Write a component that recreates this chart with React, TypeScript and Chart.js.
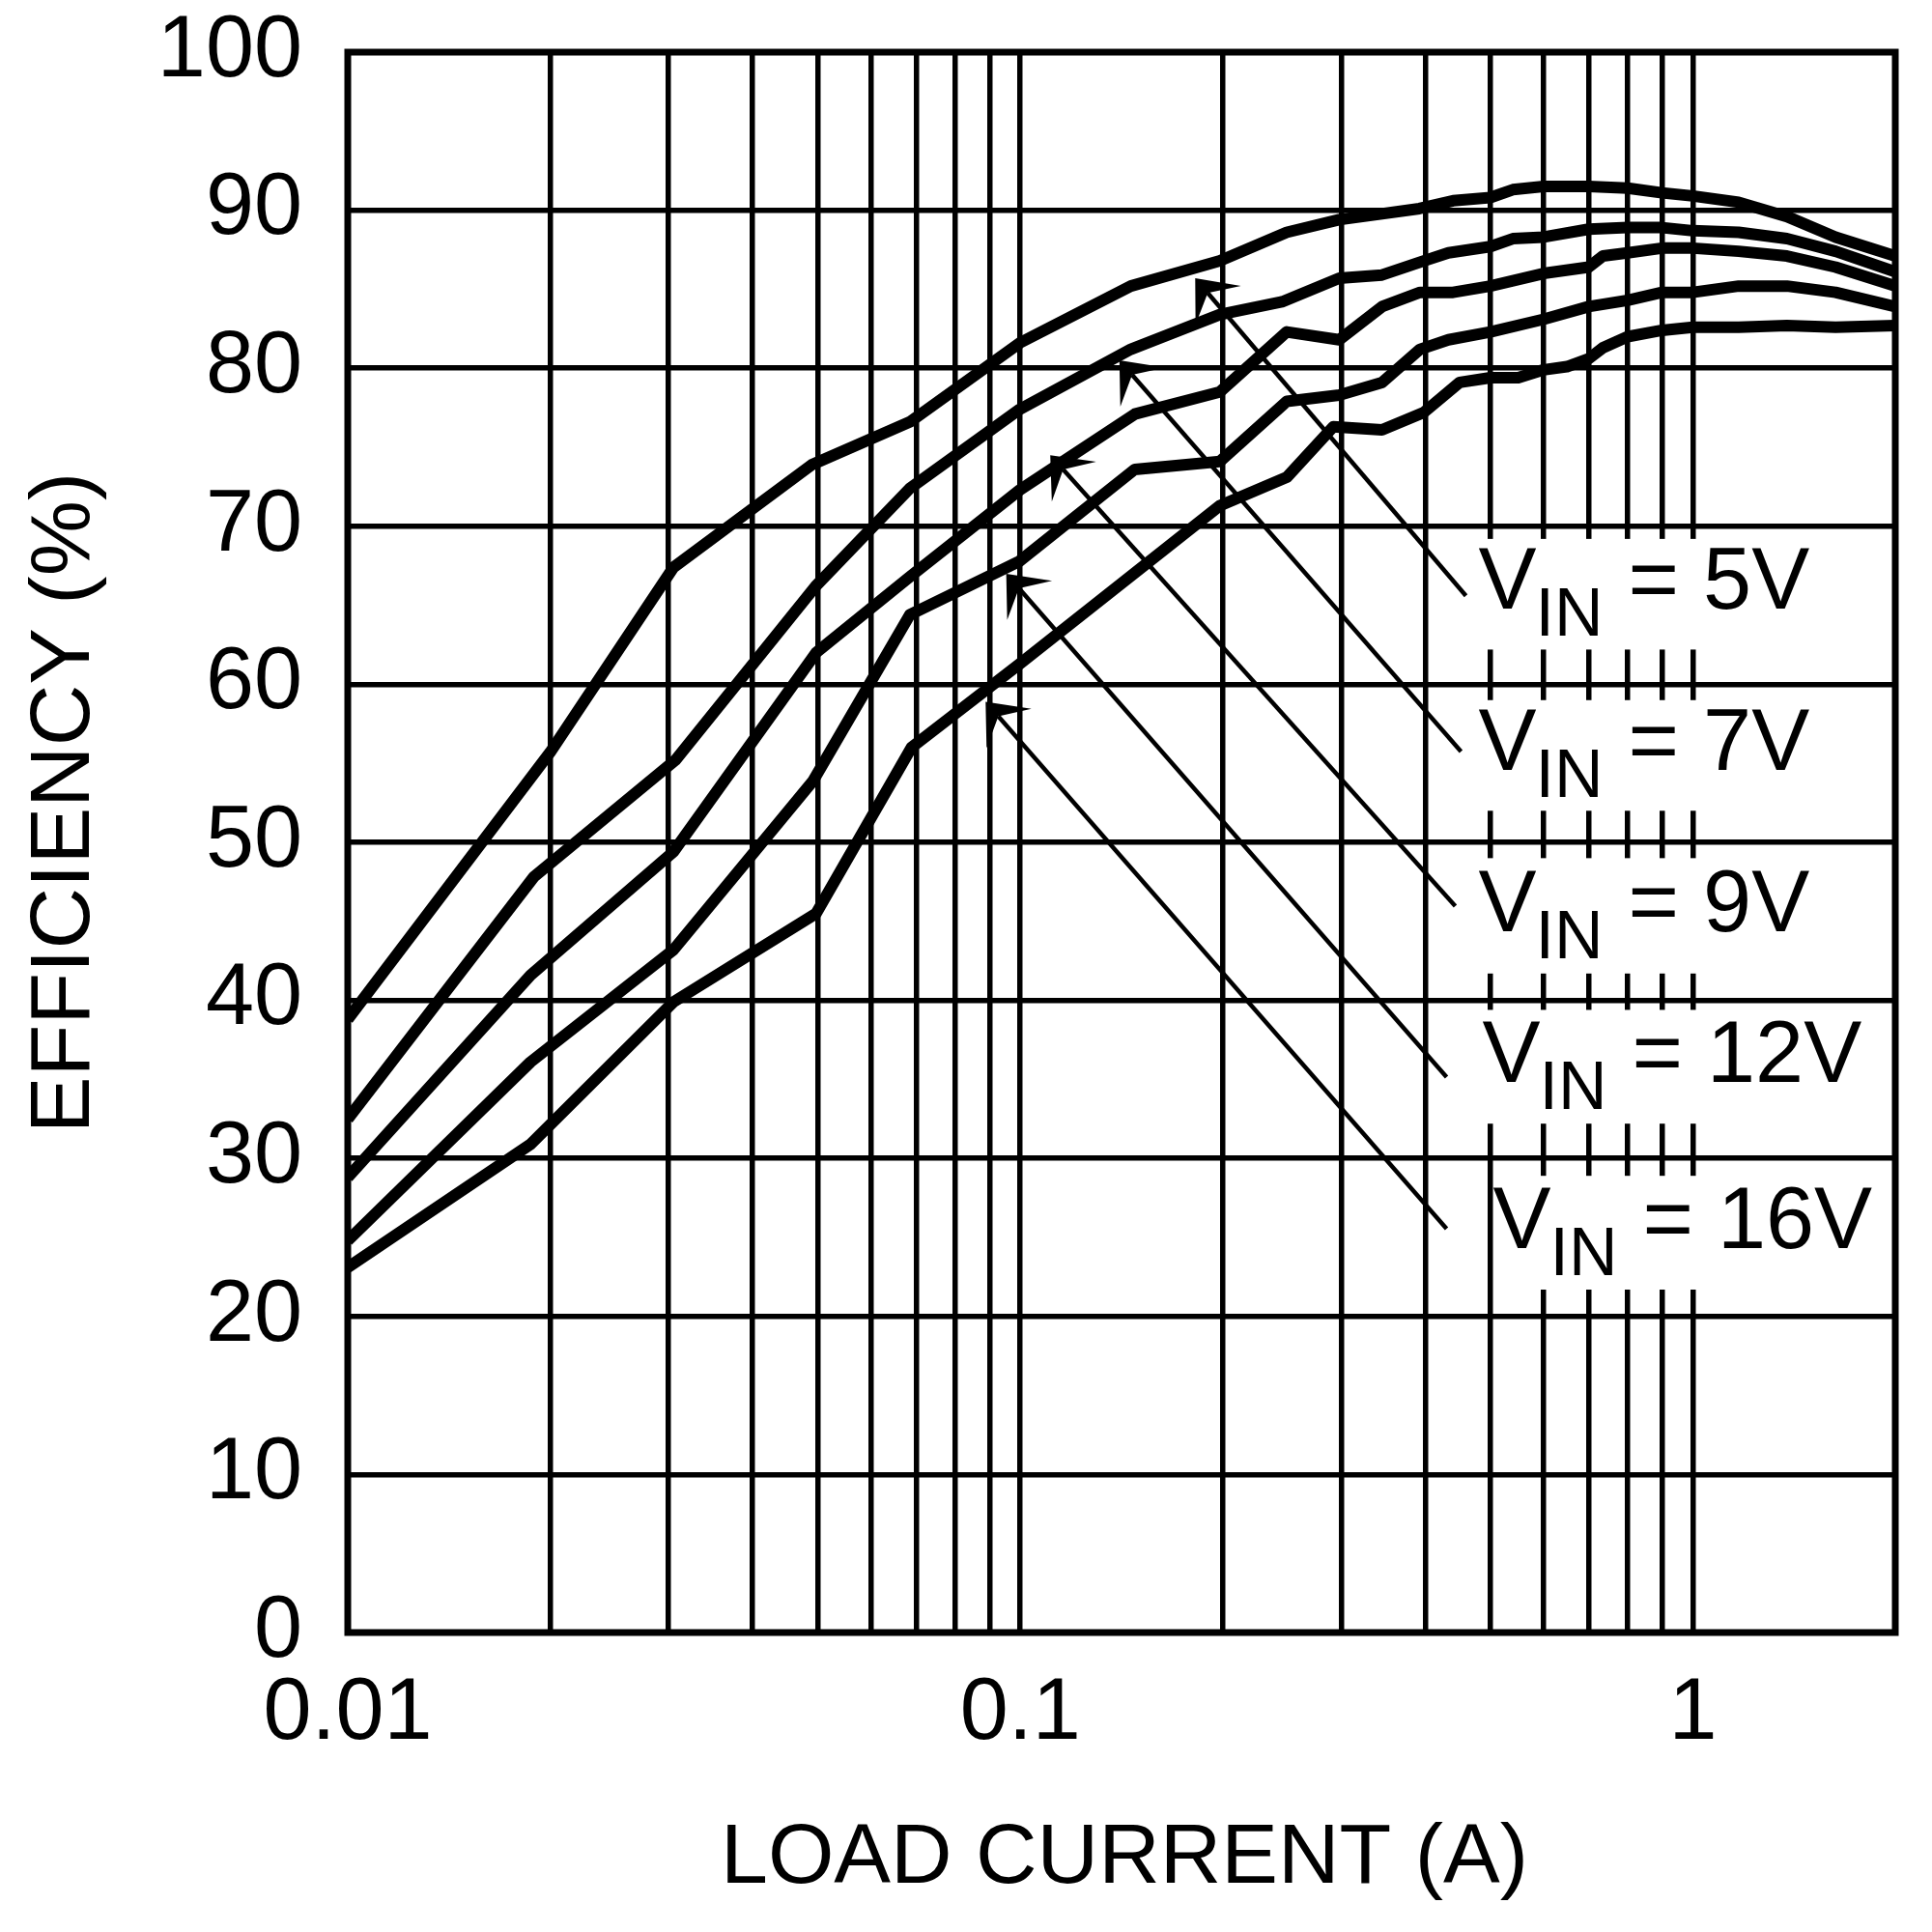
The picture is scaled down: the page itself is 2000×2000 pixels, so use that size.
import React, { useEffect, useRef } from 'react';
import { Chart, registerables } from 'chart.js';

Chart.register(...registerables);

// ---- axis ticks ----
const X_TICKS = [0.01, 0.02, 0.03, 0.04, 0.05, 0.06, 0.07, 0.08, 0.09, 0.1, 0.2, 0.3, 0.4, 0.5, 0.6, 0.7, 0.8, 0.9, 1, 2];
const X_LABELED = [0.01, 0.1, 1];
const Y_TICKS = [0, 10, 20, 30, 40, 50, 60, 70, 80, 90, 100];

// ---- series: load current (A) / efficiency (%) ----
const I_5V = [0.01, 0.02, 0.0305, 0.049, 0.0685, 0.0998, 0.146, 0.198, 0.249, 0.298, 0.392, 0.44, 0.5, 0.54, 0.6, 0.7, 0.8, 0.9, 1.0, 1.17, 1.38, 1.63, 2.0];
const E_5V = [38.8, 55.7, 67.4, 73.9, 76.6, 81.6, 85.2, 86.8, 88.6, 89.4, 90.1, 90.6, 90.8, 91.3, 91.5, 91.5, 91.4, 91.1, 90.9, 90.5, 89.6, 88.3, 87.1];

const I_7V = [0.01, 0.0189, 0.0307, 0.0496, 0.0685, 0.0998, 0.146, 0.198, 0.245, 0.298, 0.345, 0.392, 0.433, 0.5, 0.54, 0.6, 0.7, 0.8, 0.9, 1.0, 1.17, 1.38, 1.63, 2.0];
const E_7V = [32.5, 47.8, 55.2, 66.2, 72.4, 77.4, 81.2, 83.4, 84.2, 85.7, 85.9, 86.7, 87.3, 87.7, 88.2, 88.3, 88.8, 88.9, 88.9, 88.7, 88.6, 88.2, 87.4, 86.1];

const I_9V = [0.01, 0.0187, 0.0305, 0.0497, 0.0685, 0.0998, 0.148, 0.198, 0.249, 0.298, 0.345, 0.393, 0.44, 0.5, 0.6, 0.7, 0.735, 0.8, 0.9, 1.0, 1.17, 1.38, 1.63, 2.0];
const E_9V = [28.8, 41.6, 49.4, 62.0, 66.8, 72.3, 77.1, 78.5, 82.3, 81.8, 83.9, 84.8, 84.8, 85.2, 86.0, 86.4, 87.1, 87.3, 87.6, 87.6, 87.4, 87.1, 86.4, 85.2];

const I_12V = [0.01, 0.0187, 0.0305, 0.0492, 0.0685, 0.0998, 0.148, 0.198, 0.249, 0.298, 0.345, 0.393, 0.433, 0.5, 0.6, 0.7, 0.8, 0.9, 1.0, 1.17, 1.38, 1.63, 2.0];
const E_12V = [24.8, 36.1, 43.2, 53.9, 64.4, 67.8, 73.6, 74.1, 77.9, 78.3, 79.1, 81.2, 81.8, 82.3, 83.1, 83.9, 84.3, 84.8, 84.8, 85.2, 85.2, 84.8, 83.9];

const I_16V = [0.01, 0.0187, 0.0305, 0.0497, 0.0689, 0.0998, 0.198, 0.249, 0.292, 0.345, 0.398, 0.45, 0.5, 0.55, 0.6, 0.65, 0.7, 0.735, 0.8, 0.9, 1.0, 1.17, 1.38, 1.63, 2.0];
const E_16V = [23.1, 30.9, 39.9, 45.5, 56.0, 61.3, 71.3, 73.1, 76.3, 76.1, 77.2, 79.1, 79.4, 79.4, 79.9, 80.1, 80.6, 81.3, 82.0, 82.4, 82.6, 82.6, 82.7, 82.6, 82.7];

const SERIES_NAMES = ['5V', '7V', '9V', '12V', '16V'];
const SERIES_I = [I_5V, I_7V, I_9V, I_12V, I_16V];
const SERIES_E = [E_5V, E_7V, E_9V, E_12V, E_16V];

// ---- callout annotations (data coordinates) ----
const LABEL_I = [0.4801, 0.4801, 0.4801, 0.4864, 0.5043];
const LABEL_E = [64.79, 54.58, 44.38, 34.84, 24.33];
const BOX_LEFT_I = [0.4707, 0.4707, 0.4707, 0.4707, 0.5077];
const BOX_RIGHT_I = 1.094;
const BOX_TOP_E = [69.2, 59.0, 49.0, 39.4, 28.9];
const BOX_BOTTOM_E = [62.2, 52.0, 41.7, 32.2, 21.7];
const TIP_I = [0.182, 0.1404, 0.1108, 0.0953, 0.0888];
const TIP_E = [85.7, 80.5, 74.5, 67.0, 58.9];
const TAIL_I = [0.4598, 0.4522, 0.4434, 0.4304, 0.4304];
const TAIL_E = [65.6, 55.75, 45.97, 35.15, 25.55];

const X_TITLE = 'LOAD CURRENT (A)';
const Y_TITLE = 'EFFICIENCY (%)';

const FONT = '"Liberation Sans", Arial, Helvetica, sans-serif';

const annotationPlugin = {
  id: 'callouts',
  beforeDraw(chart: any) {
    const ctx = chart.ctx;
    ctx.save();
    ctx.fillStyle = '#ffffff';
    ctx.fillRect(0, 0, chart.width, chart.height);
    ctx.restore();
  },
  beforeDatasetsDraw(chart: any) {
    const { ctx, scales } = chart;
    const x = scales.x;
    const y = scales.y;
    ctx.save();
    // white label boxes hide the vertical grid lines
    ctx.fillStyle = '#ffffff';
    for (let i = 0; i < SERIES_NAMES.length; i++) {
      const l = x.getPixelForValue(BOX_LEFT_I[i]);
      const r = x.getPixelForValue(BOX_RIGHT_I);
      const t = y.getPixelForValue(BOX_TOP_E[i]);
      const b = y.getPixelForValue(BOX_BOTTOM_E[i]);
      ctx.fillRect(l, t, r - l, b - t);
    }
    // labels
    ctx.fillStyle = '#000000';
    ctx.textAlign = 'left';
    ctx.textBaseline = 'alphabetic';
    for (let i = 0; i < SERIES_NAMES.length; i++) {
      const px = x.getPixelForValue(LABEL_I[i]);
      const py = y.getPixelForValue(LABEL_E[i]);
      ctx.font = `90px ${FONT}`;
      ctx.fillText('V', px, py);
      ctx.font = `70px ${FONT}`;
      ctx.fillText('IN', px + 59, py + 28);
      ctx.font = `90px ${FONT}`;
      ctx.fillText('= ' + SERIES_NAMES[i], px + 155, py);
    }
    // pointer lines with arrowheads
    ctx.strokeStyle = '#000000';
    ctx.lineWidth = 4.5;
    for (let i = 0; i < SERIES_NAMES.length; i++) {
      const tx = x.getPixelForValue(TIP_I[i]);
      const ty = y.getPixelForValue(TIP_E[i]);
      const ex = x.getPixelForValue(TAIL_I[i]);
      const ey = y.getPixelForValue(TAIL_E[i]);
      const dx = ex - tx;
      const dy = ey - ty;
      const len = Math.hypot(dx, dy);
      const ux = dx / len;
      const uy = dy / len;
      const L = 48;
      const a = (40 * Math.PI) / 180;
      const c = Math.cos(a);
      const s = Math.sin(a);
      const b1x = tx + L * (ux * c - uy * s);
      const b1y = ty + L * (ux * s + uy * c);
      const b2x = tx + L * (ux * c + uy * s);
      const b2y = ty + L * (-ux * s + uy * c);
      const nx = tx + 20 * ux;
      const ny = ty + 20 * uy;
      ctx.beginPath();
      ctx.moveTo(nx, ny);
      ctx.lineTo(ex, ey);
      ctx.stroke();
      ctx.beginPath();
      ctx.moveTo(tx, ty);
      ctx.lineTo(b1x, b1y);
      ctx.lineTo(nx, ny);
      ctx.lineTo(b2x, b2y);
      ctx.closePath();
      ctx.fill();
    }
    ctx.restore();
  },
  afterDraw(chart: any) {
    const { ctx, chartArea } = chart;
    ctx.save();
    // frame
    ctx.strokeStyle = '#000000';
    ctx.lineWidth = 7;
    ctx.strokeRect(chartArea.left, chartArea.top, chartArea.right - chartArea.left, chartArea.bottom - chartArea.top);
    // axis titles
    ctx.fillStyle = '#000000';
    ctx.font = `88px ${FONT}`;
    ctx.textAlign = 'center';
    ctx.textBaseline = 'alphabetic';
    ctx.fillText(X_TITLE, (chartArea.left + chartArea.right) / 2 + 3, chartArea.bottom + 259);
    ctx.translate(92, chartArea.top + 777);
    ctx.rotate(-Math.PI / 2);
    ctx.fillText(Y_TITLE, 0, 0);
    ctx.restore();
  },
};

export default function App() {
  const canvasRef = useRef<HTMLCanvasElement | null>(null);

  useEffect(() => {
    const canvas = canvasRef.current;
    if (!canvas) return;
    const datasets = SERIES_NAMES.map((name, k) => ({
      label: 'VIN = ' + name,
      data: SERIES_I[k].map((v, i) => ({ x: v, y: SERIES_E[k][i] })),
      borderColor: '#000000',
      backgroundColor: '#000000',
      borderWidth: 12,
      pointRadius: 0,
      tension: 0,
      fill: false,
      borderJoinStyle: 'round' as const,
      borderCapStyle: 'butt' as const,
    }));
    const chart = new Chart(canvas, {
      type: 'line',
      data: { datasets },
      plugins: [annotationPlugin],
      options: {
        responsive: false,
        animation: false,
        devicePixelRatio: 1,
        layout: { padding: { left: 0, right: 38, top: 54, bottom: 0 } },
        plugins: { legend: { display: false }, tooltip: { enabled: false } },
        scales: {
          x: {
            type: 'logarithmic',
            min: 0.01,
            max: 2,
            afterBuildTicks: (s: any) => {
              s.ticks = X_TICKS.map((v) => ({ value: v }));
            },
            afterFit: (s: any) => {
              s.height = 310;
              s.paddingLeft = 0;
              s.paddingRight = 0;
              s.paddingTop = 0;
              s.paddingBottom = 0;
            },
            ticks: {
              autoSkip: false,
              maxRotation: 0,
              minRotation: 0,
              padding: 31,
              color: '#000000',
              font: { family: FONT, size: 90 },
              callback: (v: any) => (X_LABELED.includes(Number(v)) ? String(v) : ''),
            },
            grid: { color: '#000000', lineWidth: 5.5, drawTicks: false },
            border: { display: false },
          },
          y: {
            type: 'linear',
            min: 0,
            max: 100,
            afterBuildTicks: (s: any) => {
              s.ticks = Y_TICKS.map((v) => ({ value: v }));
            },
            afterFit: (s: any) => {
              s.width = 360;
              s.paddingLeft = 0;
              s.paddingRight = 0;
              s.paddingTop = 0;
              s.paddingBottom = 0;
            },
            ticks: {
              padding: 47,
              color: '#000000',
              font: { family: FONT, size: 90 },
              callback: (v: any) => String(v),
            },
            grid: { color: '#000000', lineWidth: 5.5, drawTicks: false },
            border: { display: false },
          },
        },
      },
    });
    return () => chart.destroy();
  }, []);

  return (
    <div style={{ position: 'absolute', left: 0, top: 0, width: 2000, height: 2000, background: '#ffffff' }}>
      <canvas ref={canvasRef} width={2000} height={2000} style={{ width: 2000, height: 2000, display: 'block' }} />
    </div>
  );
}
